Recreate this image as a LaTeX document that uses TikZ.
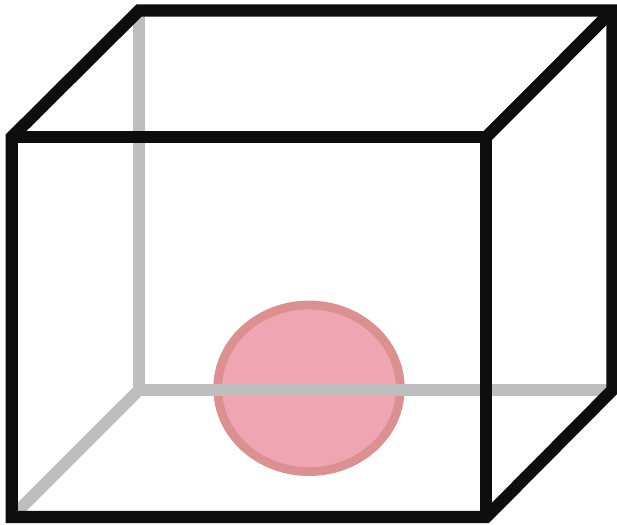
\documentclass[tikz,border=0pt]{standalone}
\definecolor{edgeblack}{HTML}{0D0D0D}
\definecolor{edgegrey}{HTML}{BEBEBE}
\definecolor{ballfill}{HTML}{F0A6B2}
\definecolor{ballline}{HTML}{DC9090}
\tikzset{
  front/.style={draw=edgeblack,line width=12.2pt,miter limit=10,line join=miter},
  hidden/.style={draw=edgegrey,line width=12pt},
  ball/.style={draw=ballline,fill=ballfill,line width=8.8pt}
}
\begin{document}
\begin{tikzpicture}[x=1pt,y=-1pt]
\useasboundingbox (0,0) rectangle (617,524);
\clip (0,0) rectangle (617,524);
\coordinate (fTL) at (11.8,137);
\coordinate (fTR) at (486.3,137);
\coordinate (fBR) at (486.3,517);
\coordinate (fBL) at (11.8,517);
\coordinate (bTL) at (139,10.5);
\coordinate (bTR) at (612.5,10.5);
\coordinate (bBR) at (612.5,390);
\coordinate (bBL) at (139,390);
\fill[white] (0,0) rectangle (617,524);
\draw[ball] (309,388.3) ellipse [x radius=91.3,y radius=83.3];
\draw[hidden] (bTL) -- (bBL);
\draw[hidden] (bBL) -- (bBR);
\draw[hidden] (bBL) -- (fBL);
\draw[front] (fTL) -- (bTL) -- (bTR) -- (bBR) -- (fBR) -- (fBL) -- cycle;
\draw[front] (fTL) -- (fTR) -- (fBR);
\draw[front] (fTR) -- (bTR);
\end{tikzpicture}
\end{document}
